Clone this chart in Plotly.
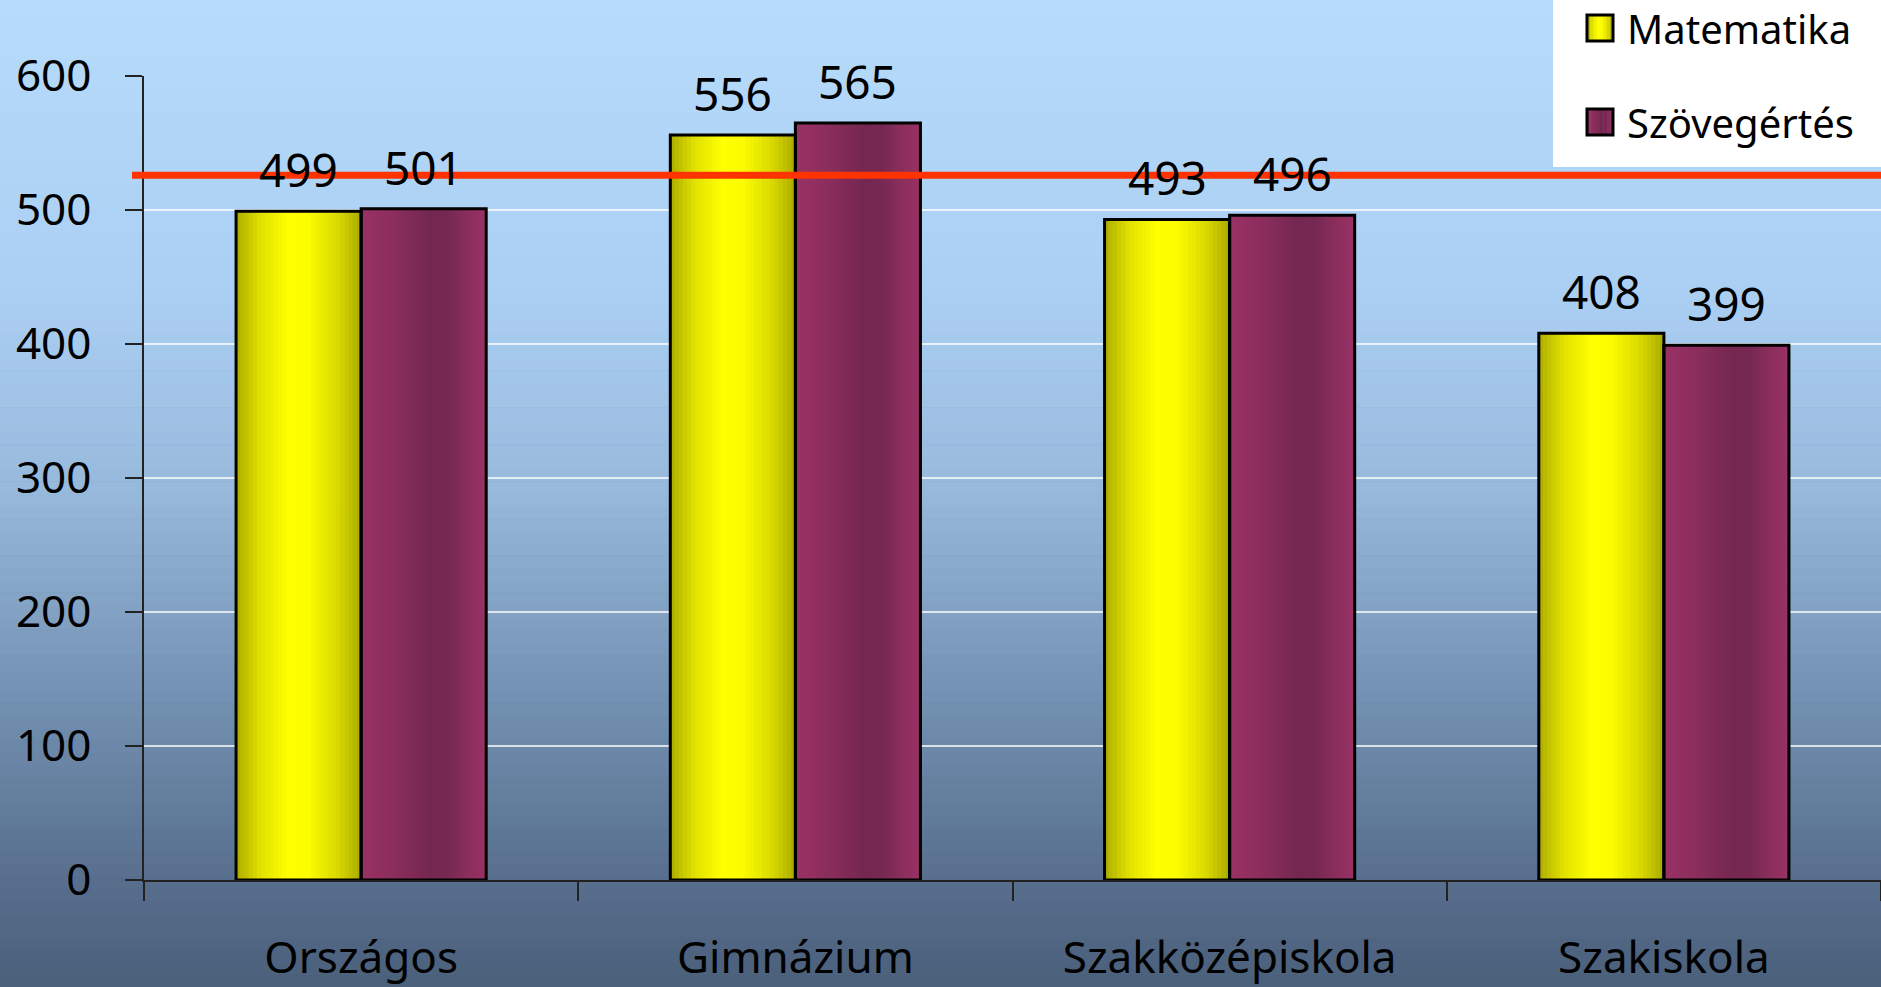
import plotly.graph_objects as go

# data
kategoriak = ["Országos", "Gimnázium", "Szakközépiskola", "Szakiskola"]
matematika = [499, 556, 493, 408]
szovegertes = [501, 565, 496, 399]
sorozatok = ["Matematika", "Szövegértés"]
referencia = 526  # red horizontal line

W, H = 1881, 987
L, R, T, B = 144, 0, 76, 107
PW, PH = W - L - R, H - T - B

FONT = "Noto Sans"

# gradient stops (position, rgb)
bg_stops = [(0, (183, 219, 250)), (0.3, (171, 207, 243)), (0.5, (150, 184, 219)),
            (0.7, (116, 146, 179)), (0.9, (86, 109, 139)), (1.0, (74, 95, 122))]
yellow_stops = [(0, (172, 172, 0)), (0.2, (226, 226, 0)), (0.42, (255, 255, 0)),
                (0.58, (252, 252, 0)), (0.82, (216, 216, 0)), (1.0, (170, 170, 0))]
purple_stops = [(0, (154, 50, 101)), (0.3, (136, 45, 91)), (0.55, (116, 39, 80)),
                (0.68, (118, 40, 82)), (0.85, (138, 46, 92)), (1.0, (154, 50, 101))]


def grad(stops, t):
    for (p0, c0), (p1, c1) in zip(stops, stops[1:]):
        if p0 <= t <= p1:
            f = (t - p0) / (p1 - p0) if p1 > p0 else 0
            c = [round(a + (b - a) * f) for a, b in zip(c0, c1)]
            return "rgb({},{},{})".format(*c)
    return "rgb({},{},{})".format(*stops[-1][1])


def px_x(x):
    return (x - L) / PW


def px_y(y):
    return (H - B - y) / PH


fig = go.Figure()

bw = 0.288
N = 30
for vals, stops, off in [(matematika, yellow_stops, -bw), (szovegertes, purple_stops, 0)]:
    for i in range(N):
        fig.add_trace(go.Bar(
            x=kategoriak, y=vals, width=bw / N + 0.002, offset=off + i * bw / N,
            marker=dict(color=grad(stops, (i + 0.5) / N), line=dict(width=0)),
            showlegend=False, hoverinfo="skip"))

for name, vals, off in [(sorozatok[0], matematika, -bw), (sorozatok[1], szovegertes, 0)]:
    fig.add_trace(go.Bar(
        x=kategoriak, y=vals, width=bw, offset=off, name=name,
        marker=dict(color="rgba(0,0,0,0)", line=dict(color="black", width=3)),
        showlegend=False))

# value labels
bar_px = bw * PW / 4
for vals, sh in [(matematika, -bar_px / 2), (szovegertes, bar_px / 2)]:
    for k, v in zip(kategoriak, vals):
        fig.add_annotation(x=k, y=v, text=str(v), showarrow=False, xshift=sh,
                           yanchor="bottom", yshift=9,
                           font=dict(family=FONT, size=46, color="black"))

shapes = []
# background gradient
nb = 80
for i in range(nb):
    y0 = H - (i + 1) * H / nb
    y1 = H - i * H / nb
    shapes.append(dict(type="rect", xref="paper", yref="paper", layer="below",
                       x0=px_x(-2), x1=px_x(W + 2), y0=px_y(y1 + 0.6), y1=px_y(y0),
                       fillcolor=grad(bg_stops, (y0 + y1) / 2 / H), line=dict(width=0)))

# reference line
shapes.append(dict(type="line", xref="paper", yref="y", x0=px_x(132), x1=px_x(W + 5),
                   y0=referencia, y1=referencia, line=dict(color="#ff3300", width=7),
                   layer="above"))

# legend box
shapes.append(dict(type="rect", xref="paper", yref="paper", x0=px_x(1553), x1=px_x(W + 5),
                   y0=px_y(167), y1=px_y(-5), fillcolor="white", line=dict(width=0),
                   layer="above"))
for (name, stops), yc in zip([(sorozatok[0], yellow_stops), (sorozatok[1], purple_stops)], [28, 122]):
    ns = 8
    for i in range(ns):
        shapes.append(dict(type="rect", xref="paper", yref="paper",
                           x0=px_x(1587 + i * 26 / ns), x1=px_x(1587 + (i + 1) * 26 / ns + 0.5),
                           y0=px_y(yc + 13), y1=px_y(yc - 13),
                           fillcolor=grad(stops, (i + 0.5) / ns), line=dict(width=0), layer="above"))
    shapes.append(dict(type="rect", xref="paper", yref="paper",
                       x0=px_x(1587), x1=px_x(1613), y0=px_y(yc + 13), y1=px_y(yc - 13),
                       line=dict(color="black", width=3), layer="above"))
    fig.add_annotation(xref="paper", yref="paper", x=px_x(1625), y=px_y(yc),
                       xanchor="left", yanchor="middle", text=name, showarrow=False,
                       font=dict(family=FONT, size=40, color="black"))

fig.update_layout(
    width=W, height=H,
    margin=dict(l=L, r=R, t=T, b=B, pad=0),
    barmode="overlay",
    plot_bgcolor="rgba(0,0,0,0)",
    paper_bgcolor="rgb(74,95,122)",
    shapes=shapes,
    showlegend=False,
    font=dict(family=FONT, color="black"),
    xaxis=dict(showline=True, linecolor="#222", linewidth=1.5, ticks="outside",
               tickson="boundaries", ticklen=19, tickcolor="#222", tickwidth=1.5,
               tickfont=dict(size=44, color="black"), ticklabelstandoff=38,
               showgrid=False, range=[-0.5, 3.5], automargin=False),
    yaxis=dict(range=[0, 600], dtick=100, showline=True, linecolor="#222", linewidth=1.5,
               ticks="outside", ticklen=17, tickcolor="#222", tickwidth=1.5,
               tickfont=dict(size=44, color="black"), ticklabelstandoff=25,
               showgrid=True, gridcolor="rgba(255,255,255,0.75)", gridwidth=1.5,
               zeroline=False, automargin=False),
)

# page has a default body margin; drop it so the figure sits at the window corner
fig.write_html("out.html", config={"displayModeBar": False},
               post_script="document.body.style.margin='0';")
